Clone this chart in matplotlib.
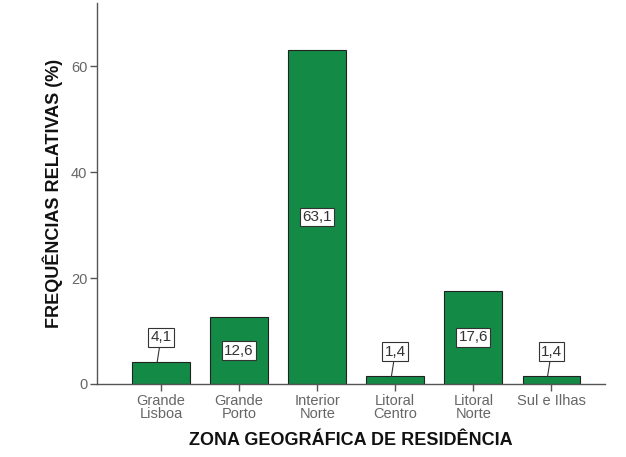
import numpy as np
import matplotlib.pyplot as plt

# data
categories = ['Grande\nLisboa', 'Grande\nPorto', 'Interior\nNorte', 'Litoral\nCentro', 'Litoral\nNorte', 'Sul e Ilhas']
values = [4.1, 12.6, 63.1, 1.4, 17.6, 1.4]
value_labels = ['4,1', '12,6', '63,1', '1,4', '17,6', '1,4']
yticks = [0, 20, 40, 60]

plt.rcParams['font.family'] = ['Liberation Sans', 'DejaVu Sans']

fig = plt.figure(figsize=(6.26, 4.57), dpi=100)
ax = fig.add_axes([0.155, 0.16, 0.812, 0.834])

x = np.arange(len(categories))
bars = ax.bar(x, values, width=0.74, color='#138A45', edgecolor='#222222', linewidth=0.8, zorder=2)

bbox = dict(boxstyle='square,pad=0.15', fc='white', ec='#333333', lw=0.8)
for xi, v, lab in zip(x, values, value_labels):
    if v > 8:
        ax.text(xi, v / 2, lab, ha='center', va='center', fontsize=11, color='#333333', bbox=bbox, zorder=3)
    else:
        ax.annotate(lab, xy=(xi - 0.05, v), xytext=(xi, v + 4.7), ha='center', va='center',
                    fontsize=11, color='#333333', bbox=bbox, zorder=3,
                    arrowprops=dict(arrowstyle='-', color='#333333', lw=0.8, shrinkA=0, shrinkB=0))

ax.set_xlim(-0.82, 5.69)
ax.set_ylim(0, 72)
ax.set_yticks(yticks)
ax.set_xticks(x)
ax.set_xticklabels(categories, linespacing=0.9)

for s in ['top', 'right']:
    ax.spines[s].set_visible(False)
for s in ['left', 'bottom']:
    ax.spines[s].set_color('#555555')
    ax.spines[s].set_linewidth(1.0)
ax.tick_params(axis='both', colors='#555555', labelcolor='#666666', labelsize=10.5, length=5, width=1.0,
               direction='out', pad=2)

ax.set_xlabel('ZONA GEOGRÁFICA DE RESIDÊNCIA', fontsize=13, fontweight='bold', color='#111111', labelpad=8)
ax.set_ylabel('FREQUÊNCIAS RELATIVAS (%)', fontsize=13, fontweight='bold', color='#111111', labelpad=6)

fig.savefig('out.png', dpi=100)
